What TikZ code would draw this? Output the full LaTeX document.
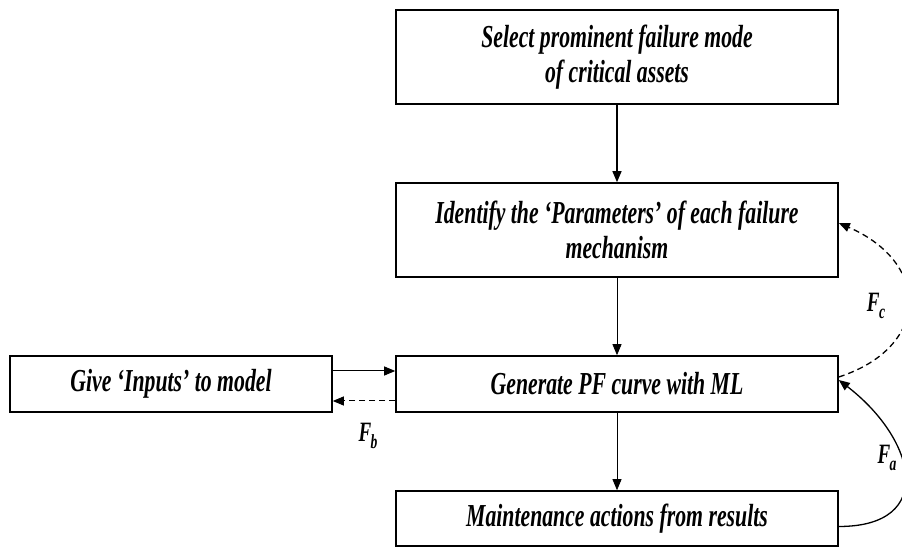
\documentclass[tikz,border=0pt]{standalone}
\usepackage{fontspec}
\setmainfont{Liberation Serif}[FakeStretch=0.68]
\usetikzlibrary{arrows.meta}

\newcommand{\flab}[1]{\bfseries\itshape F\kern-0.5pt\raisebox{-0.5ex}{\fontsize{20}{20}\selectfont #1}}

\begin{document}
\begin{tikzpicture}[x=1pt, y=1pt,
  box/.style={draw, line width=1.6pt, minimum width=442pt, align=center,
    font=\fontsize{32}{35}\selectfont\bfseries\itshape},
  link/.style={-{Triangle[length=11pt,width=9pt]}, line width=0.8pt},
  dashline/.style={dash pattern=on 6pt off 4pt},
  lab/.style={font=\fontsize{28}{30}\selectfont}]
  \useasboundingbox (0,0) rectangle (902,548);

  % main column
  \node[box, minimum height=94pt] (select) at (617,491) {Select prominent failure mode\\of critical assets};
  \node[box, minimum height=94pt] (ident) at (617,318) {Identify the ‘Parameters’ of each failure\\mechanism};
  \node[box, minimum height=56pt] (gen) at (617,164) {Generate PF curve with ML};
  \node[box, minimum height=55pt] (maint) at (617,29.5) {Maintenance actions from results};
  % side input
  \node[box, minimum height=56pt, minimum width=322pt] (inputs) at (171,164) {Give ‘Inputs’ to model};

  \draw[link, line width=1.3pt] (select) -- (ident);
  \draw[link] (ident) -- (gen);
  \draw[link] (gen) -- (maint);
  \draw[link, line width=1pt] ([yshift=13pt]inputs.east) -- ([yshift=13pt]gen.west);
  \draw[link, line width=1pt, dashline] ([yshift=-17pt]gen.west) -- ([yshift=-17pt]inputs.east);

  % feedback loops
  \draw[link, line width=1.3pt, dashline] ([yshift=7pt]gen.east) .. controls +(92,30) and +(92,-40) .. ([yshift=7pt]ident.east);
  \draw[link, line width=1.3pt] ([yshift=-8pt]maint.east) .. controls +(98,0) and +(78,-60) .. ([yshift=4pt]gen.east);

  \node[lab] (fb) at (368,112) {\flab{b}};
  \node[lab] (fc) at (876,242) {\flab{c}};
  \node[lab, anchor=west] (fa) at (874,90) {\flab{a}};
\end{tikzpicture}
\end{document}
